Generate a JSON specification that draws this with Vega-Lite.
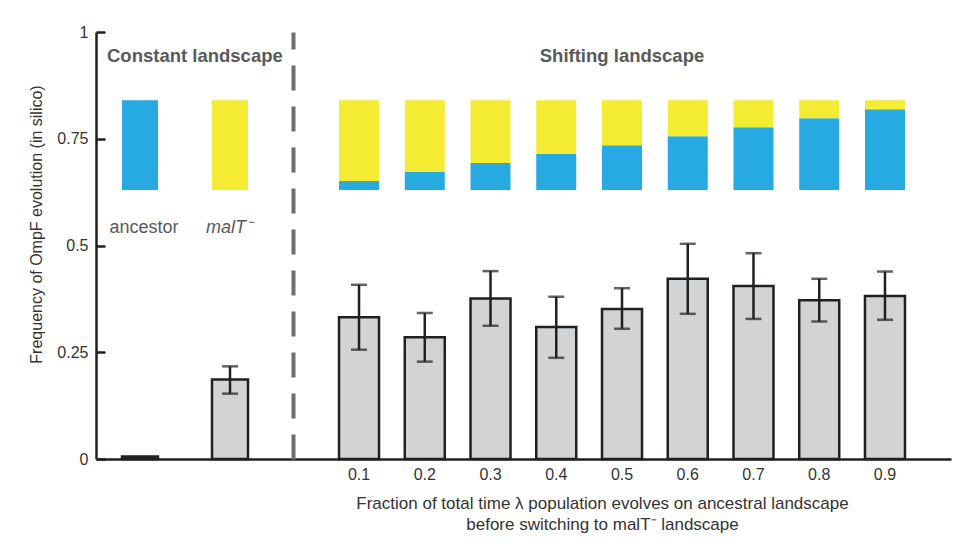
{
  "$schema": "https://vega.github.io/schema/vega-lite/v6.json",
  "background": "white",
  "padding": {"left": 28, "top": 24, "right": 4, "bottom": 4},
  "autosize": {"type": "pad"},
  "spacing": 0,
  "bounds": "flush",
  "config": {
    "view": {"stroke": null},
    "font": "Liberation Sans",
    "axis": {"grid": false, "labelFont": "Liberation Sans", "titleFont": "Liberation Sans", "labelColor": "#333333", "titleColor": "#333333", "labelFontSize": 16, "titleFontSize": 16, "titleFontWeight": "normal", "domainColor": "#231f20", "domainWidth": 2.5, "tickColor": "#231f20", "tickWidth": 2.5}
  },
  "datasets": {
    "freq": [
      {"group": "constant", "cat": "ancestor", "freq": 0.006, "lo": null, "hi": null},
      {"group": "constant", "cat": "malT⁻", "freq": 0.186, "lo": 0.153, "hi": 0.217},
      {"group": "shifting", "cat": "0.1", "freq": 0.332, "lo": 0.256, "hi": 0.408},
      {"group": "shifting", "cat": "0.2", "freq": 0.285, "lo": 0.228, "hi": 0.342},
      {"group": "shifting", "cat": "0.3", "freq": 0.376, "lo": 0.312, "hi": 0.440},
      {"group": "shifting", "cat": "0.4", "freq": 0.309, "lo": 0.237, "hi": 0.380},
      {"group": "shifting", "cat": "0.5", "freq": 0.351, "lo": 0.305, "hi": 0.400},
      {"group": "shifting", "cat": "0.6", "freq": 0.422, "lo": 0.340, "hi": 0.504},
      {"group": "shifting", "cat": "0.7", "freq": 0.405, "lo": 0.328, "hi": 0.482},
      {"group": "shifting", "cat": "0.8", "freq": 0.372, "lo": 0.322, "hi": 0.422},
      {"group": "shifting", "cat": "0.9", "freq": 0.382, "lo": 0.326, "hi": 0.439}
    ],
    "share": [
      {"group": "constant", "cat": "ancestor", "landscape": "ancestral", "share": 1},
      {"group": "constant", "cat": "malT⁻", "landscape": "malT⁻", "share": 1},
      {"group": "shifting", "cat": "0.1", "landscape": "ancestral", "share": 0.1},
      {"group": "shifting", "cat": "0.1", "landscape": "malT⁻", "share": 0.9},
      {"group": "shifting", "cat": "0.2", "landscape": "ancestral", "share": 0.2},
      {"group": "shifting", "cat": "0.2", "landscape": "malT⁻", "share": 0.8},
      {"group": "shifting", "cat": "0.3", "landscape": "ancestral", "share": 0.3},
      {"group": "shifting", "cat": "0.3", "landscape": "malT⁻", "share": 0.7},
      {"group": "shifting", "cat": "0.4", "landscape": "ancestral", "share": 0.4},
      {"group": "shifting", "cat": "0.4", "landscape": "malT⁻", "share": 0.6},
      {"group": "shifting", "cat": "0.5", "landscape": "ancestral", "share": 0.5},
      {"group": "shifting", "cat": "0.5", "landscape": "malT⁻", "share": 0.5},
      {"group": "shifting", "cat": "0.6", "landscape": "ancestral", "share": 0.6},
      {"group": "shifting", "cat": "0.6", "landscape": "malT⁻", "share": 0.4},
      {"group": "shifting", "cat": "0.7", "landscape": "ancestral", "share": 0.7},
      {"group": "shifting", "cat": "0.7", "landscape": "malT⁻", "share": 0.3},
      {"group": "shifting", "cat": "0.8", "landscape": "ancestral", "share": 0.8},
      {"group": "shifting", "cat": "0.8", "landscape": "malT⁻", "share": 0.2},
      {"group": "shifting", "cat": "0.9", "landscape": "ancestral", "share": 0.9},
      {"group": "shifting", "cat": "0.9", "landscape": "malT⁻", "share": 0.1}
    ],
    "titles": [
      {"group": "constant", "label": "Constant landscape"},
      {"group": "shifting", "label": "Shifting landscape"}
    ]
  },
  "hconcat": [
    {
      "width": 197,
      "height": 427,
      "encoding": {
        "x": {"field": "cat", "type": "nominal", "scale": {"domain": ["ancestor", "malT⁻"], "paddingInner": 0.6, "paddingOuter": 0.394, "align": 0.366, "round": false}, "axis": {"labels": false, "ticks": false, "title": null, "domain": true}}
      },
      "layer": [
        {
          "layer": [
            {
              "data": {"name": "freq"},
              "transform": [{"filter": "datum.group == 'constant'"}],
              "mark": {"type": "bar", "size": 36, "fill": "#d1d3d4", "stroke": "#231f20", "strokeWidth": 2.5},
              "encoding": {
                "y": {"field": "freq", "type": "quantitative", "title": "Frequency of OmpF evolution (in silico)", "scale": {"domain": [0, 1], "nice": false, "zero": true},
                  "axis": {"values": [0, 0.25, 0.5, 0.75, 1], "format": ".2~f", "tickSize": -9, "labelPadding": 17, "titlePadding": 12, "titleY": 192}}
              }
            },
            {
              "data": {"name": "freq"},
              "transform": [{"filter": "datum.group == 'constant' && datum.lo != null"}],
              "mark": {"type": "errorbar", "thickness": 2.5, "color": "#231f20", "ticks": {"size": 16, "thickness": 2.5, "color": "#231f20"}},
              "encoding": {
                "y": {"field": "lo", "type": "quantitative", "title": "Frequency of OmpF evolution (in silico)"},
                "y2": {"field": "hi"}
              }
            },
            {
              "data": {"name": "freq"},
              "transform": [{"filter": "datum.cat == 'ancestor'"}],
              "mark": {"type": "text", "fontSize": 18, "color": "#58595b", "baseline": "middle", "align": "center", "dx": 4},
              "encoding": {"y": {"datum": 0.541}, "text": {"field": "cat"}}
            },
            {
              "data": {"name": "freq"},
              "transform": [{"filter": "datum.cat == 'malT⁻'"}],
              "mark": {"type": "text", "fontSize": 18, "fontStyle": "italic", "color": "#58595b", "baseline": "middle", "align": "center", "dx": -1},
              "encoding": {"y": {"datum": 0.541}, "text": {"field": "cat"}}
            },
            {
              "data": {"name": "titles"},
              "transform": [{"filter": "datum.group == 'constant'"}],
              "mark": {"type": "text", "fontSize": 18.5, "fontWeight": "bold", "color": "#58595b", "baseline": "middle", "align": "left", "dx": -33},
              "encoding": {"x": {"datum": "ancestor"}, "y": {"datum": 0.944}, "text": {"field": "label"}}
            }
          ]
        },
        {
          "data": {"name": "share"},
          "transform": [{"filter": "datum.group == 'constant'"}],
          "mark": {"type": "bar", "size": 36},
          "encoding": {
            "y": {"field": "share", "type": "quantitative", "stack": "zero", "scale": {"domain": [-3, 1.7619], "nice": false, "zero": false}, "axis": null},
            "color": {"field": "landscape", "type": "nominal", "scale": {"domain": ["ancestral", "malT⁻"], "range": ["#27aae1", "#f4eb33"]}, "legend": null},
            "order": {"field": "landscape", "type": "nominal", "sort": "ascending"}
          }
        }
      ],
      "resolve": {"scale": {"y": "independent"}}
    },
    {
      "width": 658,
      "height": 427,
      "encoding": {
        "x": {"field": "cat", "type": "nominal", "scale": {"domain": ["0.1", "0.2", "0.3", "0.4", "0.5", "0.6", "0.7", "0.8", "0.9"], "paddingInner": 0.3916, "paddingOuter": 0.7, "align": 0.5, "round": false},
          "axis": {"labelAngle": 0, "ticks": false, "labelPadding": 7, "titleFontSize": 17, "title": ["Fraction of total time λ population evolves on ancestral landscape", "before switching to malT⁻ landscape"], "titlePadding": 13, "titleLineHeight": 21, "titleX": 309}}
      },
      "layer": [
        {
          "layer": [
            {
              "data": {"name": "freq"},
              "transform": [{"filter": "datum.group == 'shifting'"}],
              "mark": {"type": "bar", "size": 40, "fill": "#d1d3d4", "stroke": "#231f20", "strokeWidth": 2.5},
              "encoding": {
                "y": {"field": "freq", "type": "quantitative", "title": null, "scale": {"domain": [0, 1], "nice": false, "zero": true},
                  "axis": {"labels": false, "ticks": false, "title": null, "domainColor": "#6d6e71", "domainWidth": 4, "domainDash": [25, 16]}}
              }
            },
            {
              "data": {"name": "freq"},
              "transform": [{"filter": "datum.group == 'shifting'"}],
              "mark": {"type": "errorbar", "thickness": 2.5, "color": "#231f20", "ticks": {"size": 16, "thickness": 2.5, "color": "#231f20"}},
              "encoding": {
                "y": {"field": "lo", "type": "quantitative", "title": null},
                "y2": {"field": "hi"}
              }
            },
            {
              "data": {"name": "titles"},
              "transform": [{"filter": "datum.group == 'shifting'"}],
              "mark": {"type": "text", "fontSize": 18.5, "fontWeight": "bold", "color": "#58595b", "baseline": "middle", "align": "center"},
              "encoding": {"x": {"datum": "0.5"}, "y": {"datum": 0.944}, "text": {"field": "label"}}
            }
          ]
        },
        {
          "data": {"name": "share"},
          "transform": [{"filter": "datum.group == 'shifting'"}],
          "mark": {"type": "bar", "size": 40},
          "encoding": {
            "y": {"field": "share", "type": "quantitative", "stack": "zero", "scale": {"domain": [-3, 1.7619], "nice": false, "zero": false}, "axis": null},
            "color": {"field": "landscape", "type": "nominal", "scale": {"domain": ["ancestral", "malT⁻"], "range": ["#27aae1", "#f4eb33"]}, "legend": null},
            "order": {"field": "landscape", "type": "nominal", "sort": "ascending"}
          }
        }
      ],
      "resolve": {"scale": {"y": "independent"}}
    }
  ]
}
